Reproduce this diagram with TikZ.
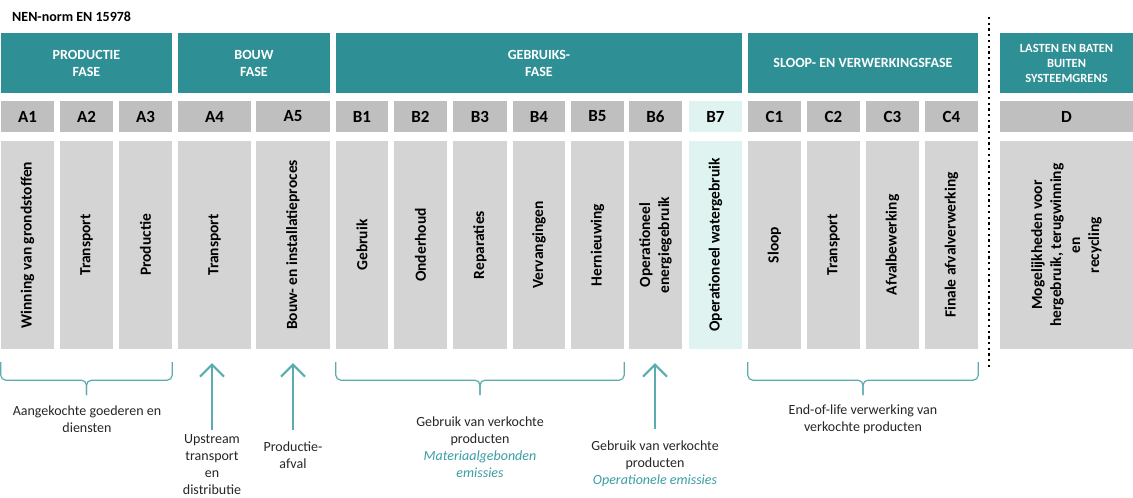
\documentclass[tikz,border=0pt]{standalone}
\usepackage{fontspec}
\setmainfont{Carlito}
\usetikzlibrary{arrows.meta,calc}
\definecolor{kopteal}{HTML}{2E8F94}
\definecolor{lijnteal}{HTML}{5AACB0}
\definecolor{tekstteal}{HTML}{3A9DA2}
\definecolor{codegrijs}{HTML}{BFBFBF}
\definecolor{vakgrijs}{HTML}{D4D4D4}
\definecolor{mint}{HTML}{DFF3F0}
\tikzset{kop/.style={fill=kopteal, text=white, align=center, minimum height=60, inner sep=0pt,
    font=\bfseries\fontsize{14}{17}\selectfont},
  code/.style={fill=#1, minimum height=31, inner sep=0pt, font=\bfseries\fontsize{17}{20}\selectfont},
  vak/.style={fill=#1, minimum height=208, inner sep=0pt},
  vert/.style={rotate=90, align=center, inner sep=0pt, font=\bfseries\fontsize{15.5}{19}\selectfont},
  lbl/.style={align=center, inner sep=0pt, text=black!85, font=\fontsize{14}{17}\selectfont},
  accl/.style={draw=lijnteal, line width=1.2pt, rounded corners=5pt},
  pijl/.style={draw=lijnteal, line width=2pt, -{Straight Barb[length=12pt,width=24pt]}}}
\newcommand\emis[1]{\textcolor{tekstteal}{\itshape #1}}
% accolade onder een reeks vakken
\newcommand\accolade[2]{%
  \coordinate (m#1) at ($(#1.south west)!.5!(#2.south east)+(0,-31pt)$);
  \draw[accl] ([yshift=-13pt]#1.south west) |- (m#1) -- ++(0,-15pt);
  \draw[accl] ([yshift=-13pt]#2.south east) |- (m#1) -- ++(0,-15pt);}

\begin{document}
\begin{tikzpicture}[x=1pt,y=-1pt]

    \useasboundingbox (0,0) rectangle (1133,498);

    \node[anchor=west, inner sep=0pt, font=\bfseries\fontsize{14}{17}\selectfont] (titel) at (12,16.5) {NEN-norm EN 15978};

    % fasen
    \node[kop, minimum width=171] (hP) at (86.5,63) {PRODUCTIE\\FASE};
    \node[kop, minimum width=152] (hB) at (254,63) {BOUW\\FASE};
    \node[kop, minimum width=406] (hG) at (539,63) {GEBRUIKS-\\FASE};
    \node[kop, minimum width=230] (hS) at (863,63) {SLOOP- EN VERWERKINGSFASE};
    \node[kop, minimum width=133, font=\bfseries\fontsize{12.5}{15}\selectfont] (hD) at (1066.5,63) {LASTEN EN BATEN\\BUITEN\\SYSTEEMGRENS};

    % modules
    \foreach \n/\xa/\xb/\ka/\kb/\txt in {A1/1/54/codegrijs/vakgrijs/{Winning van grondstoffen},
      A2/60/113/codegrijs/vakgrijs/Transport, A3/119/172/codegrijs/vakgrijs/Productie,
      A4/178/251/codegrijs/vakgrijs/Transport, A5/256/330/codegrijs/vakgrijs/{Bouw- en installatieproces},
      B1/336/388/codegrijs/vakgrijs/Gebruik, B2/394/447/codegrijs/vakgrijs/Onderhoud,
      B3/453/507/codegrijs/vakgrijs/Reparaties, B4/513/565/codegrijs/vakgrijs/Vervangingen,
      B5/571/624/codegrijs/vakgrijs/Hernieuwing, B6/629/682/codegrijs/vakgrijs/{Operationeel\\energiegebruik},
      B7/689/742/mint/mint/{Operationeel watergebruik},
      C1/748/801/codegrijs/vakgrijs/Sloop, C2/807/860/codegrijs/vakgrijs/Transport,
      C3/866/919/codegrijs/vakgrijs/Afvalbewerking, C4/925/978/codegrijs/vakgrijs/{Finale afvalverwerking},
      D/1000/1133/codegrijs/vakgrijs/{Mogelijkheden voor\\hergebruik, terugwinning\\en\\recycling}}
    {
    \node[code=\ka, minimum width={\xb-\xa}] (c\n) at ({(\xa+\xb)/2},116.5) {\n};
    \node[vak=\kb, minimum width={\xb-\xa}] (t\n) at ({(\xa+\xb)/2},245) {};
    \node[vert] (x\n) at (t\n) {\txt};
    }

    % systeemgrens
    \coordinate (grensboven) at (989,17);
    \coordinate (grensonder) at (989,368);
    \draw[line width=2.3pt, dash pattern=on 2.3pt off 3.4pt] (grensboven) -- (grensonder);

    % toelichting
    \node[lbl] (lA) at (87,419.5) {Aangekochte goederen en\\diensten};
    \node[lbl] (lA4) at (212,465) {Upstream\\transport\\en\\distributie};
    \node[lbl] (lA5) at (293,455.5) {Productie-\\afval};
    \node[lbl] (lB) at (480,447) {Gebruik van verkochte\\producten\\\emis{Materiaalgebonden}\\\emis{emissies}};
    \node[lbl] (lB6) at (655,464) {Gebruik van verkochte\\producten\\\emis{Operationele emissies}};
    \node[lbl] (lC) at (863,419.5) {End-of-life verwerking van\\verkochte producten};

    \accolade{tA1}{tA3}
    \accolade{tB1}{tB5}
    \accolade{tC1}{tC4}

    \draw[pijl, shorten <=5pt, shorten >=14pt] (lA4.north) -- (lA4.north |- tA4.south);
    \draw[pijl, shorten <=12pt, shorten >=14pt] (lA5.north) -- (lA5.north |- tA5.south);
    \draw[pijl, shorten <=12pt, shorten >=14pt] (lB6.north) -- (lB6.north |- tB6.south);

  \end{tikzpicture}
\end{document}
